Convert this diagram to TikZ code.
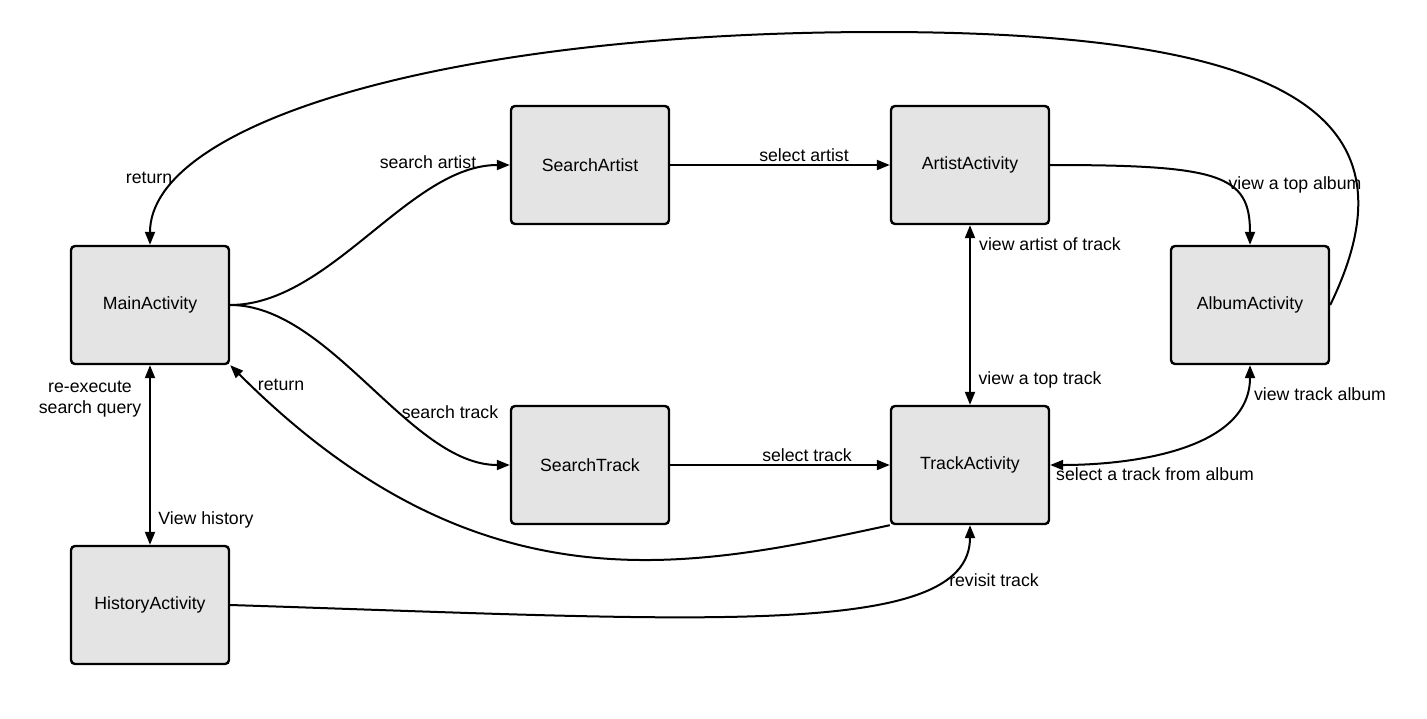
\documentclass[tikz,border=0pt]{standalone}
\usepackage{fontspec}
\setmainfont{Liberation Sans}
\usetikzlibrary{arrows.meta}
\definecolor{boxfill}{HTML}{E4E4E4}
\tikzset{
  actbox/.style={draw=black, fill=boxfill, line width=2.4pt, rounded corners=4pt,
    minimum width=158pt, minimum height=118pt, inner sep=0pt},
  lbl/.style={inner sep=0pt, anchor=center},
  conn/.style={line width=2pt, -{Triangle[length=13pt,width=10pt]}},
  bconn/.style={line width=2pt, {Triangle[length=13pt,width=10pt]}-{Triangle[length=13pt,width=10pt]}},
  every node/.style={font=\fontsize{17.7pt}{21pt}\selectfont}
}
\begin{document}
\begin{tikzpicture}[x=1pt,y=-1pt]
\useasboundingbox[fill=white] (0,0) rectangle (1427,718);
% boxes
\node[actbox] (main) at (150,305) {MainActivity};
\node[actbox] (sa) at (590,165) {SearchArtist};
\node[actbox] (artist) at (970,165) {ArtistActivity};
\node[actbox] (album) at (1250,305) {AlbumActivity};
\node[actbox] (st) at (590,465) {SearchTrack};
\node[actbox] (track) at (970,465) {TrackActivity};
\node[actbox] (hist) at (150,605) {HistoryActivity};
\coordinate (topc) at (880,32);
% connectors
\draw[conn] (main.east) .. controls +(100,0) and +(-100,0) .. (sa.west);
\draw[conn] (main.east) .. controls +(100,0) and +(-100,0) .. (st.west);
\draw[conn] (sa.east) -- (artist.west);
\draw[conn] (st.east) -- (track.west);
\draw[conn] (artist.east) .. controls +(170,0) and +(0,-70) .. (album.north);
\draw[bconn] (artist.south) -- (track.north);
\draw[bconn] (album.south) .. controls +(0,85) and +(80,0) .. (track.east);
\draw[conn] (album.east) .. controls +(90,-185) and +(420,0) .. (topc)
   .. controls +(-440,0) and +(0,-120) .. (main.north);
\draw[conn] (track.south west) .. controls +(-200,43) and +(250,250) .. (main.south east);
\draw[bconn] (main.south) -- (hist.north);
\draw[conn] (hist.east) .. controls +(470,15) and +(0,115) .. (track.south);
% labels
\node[lbl] (l1) at (428,162) {search artist};
\node[lbl] (l2) at (149,178) {return};
\node[lbl] (l3) at (281,385) {return};
\node[lbl, align=center] (l4) at (90,399) {re-execute\\search query};
\node[lbl] (l5) at (206,520) {View history};
\node[lbl] (l6) at (450,412) {search track};
\node[lbl] (l7) at (804,155) {select artist};
\node[lbl] (l8) at (807,455) {select track};
\node[lbl] (l9) at (1295,185) {view a top album};
\node[lbl] (l10) at (1050,244) {view artist of track};
\node[lbl] (l11) at (1040,380) {view a top track};
\node[lbl] (l12) at (1320,394) {view track album};
\node[lbl] (l13) at (1155,474) {select a track from album};
\node[lbl] (l14) at (994,580) {revisit track};
\end{tikzpicture}
\end{document}
